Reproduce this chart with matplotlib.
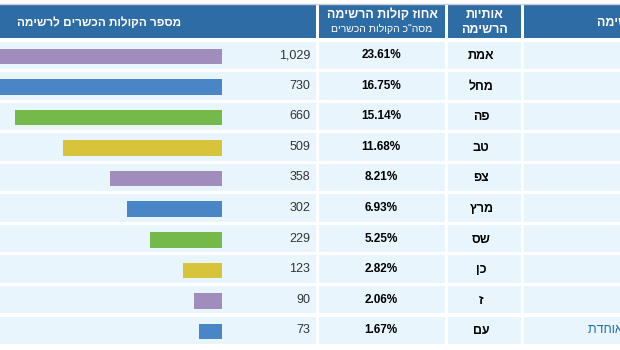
import matplotlib
matplotlib.use('Agg')
import matplotlib.pyplot as plt
from matplotlib.patches import Rectangle

plt.rcParams['font.family'] = ['Liberation Sans', 'DejaVu Sans']

# table data, top row first
letters = ['אמת', 'מחל', 'פה', 'טב', 'צפ', 'מרץ', 'שס', 'כן', 'ז', 'עם']
votes = [1029, 730, 660, 509, 358, 302, 229, 123, 90, 73]
percents = [23.61, 16.75, 15.14, 11.68, 8.21, 6.93, 5.25, 2.82, 2.06, 1.67]
names = ['', '', '', '', '', '', '', '', '', 'הרשימה המאוחדת']
bar_colors = ['#a08dbe', '#4a86c5', '#76b94b', '#d8c43a'] * 3

head_votes = 'מספר הקולות הכשרים לרשימה'
head_pct = ['אחוז קולות הרשימה', 'מסה"כ הקולות הכשרים']
head_letters = ['אותיות', 'הרשימה']
head_name = 'שם הרשימה'

HEAD = '#2e6ca6'
CELL = '#e8f5fd'


def heb(s):
    # matplotlib has no bidi support, so flip right-to-left text by hand
    return s[::-1]


W, H = 620, 350
fig = plt.figure(figsize=(W / 100, H / 100), dpi=100)
fig.patch.set_facecolor('white')
ax = fig.add_axes([0, 0, 1, 1])
ax.set_xlim(0, W)
ax.set_ylim(H, 0)
ax.axis('off')

# column edges in pixels
cols = [(-5, 315.5), (318.5, 445), (448, 521), (524, 630)]
row_top, row_h, pitch = 41.5, 27.5, 30.56
head_top, head_bot = 4.5, 38

ax.plot([0, W], [3.8, 3.8], color='#c8d0d8', lw=1)
for x0, x1 in cols:
    ax.add_patch(Rectangle((x0, head_top), x1 - x0, head_bot - head_top,
                           facecolor=HEAD, edgecolor='none'))
    for i in range(len(votes)):
        y0 = row_top + i * pitch
        ax.add_patch(Rectangle((x0, y0), x1 - x0, row_h, facecolor=CELL,
                               edgecolor='none'))

# header text
ax.text(99, 22.5, heb(head_votes), color='white', fontsize=8.5,
        fontweight='bold', ha='center', va='center')
ax.text(382, 15, heb(head_pct[0]), color='white', fontsize=9, fontweight='bold',
        ha='center', va='center')
ax.text(382, 28.5, heb(head_pct[1]), color='white', fontsize=7.5,
        ha='center', va='center')
ax.text(485, 15, heb(head_letters[0]), color='white', fontsize=9,
        fontweight='bold', ha='center', va='center')
ax.text(485, 30, heb(head_letters[1]), color='white', fontsize=9,
        fontweight='bold', ha='center', va='center')
ax.text(597, 22.5, heb(head_name), color='white', fontsize=9,
        fontweight='bold', ha='left', va='center')

# row text
for i in range(len(votes)):
    yc = row_top + i * pitch + row_h / 2
    ax.text(310, yc, f'{votes[i]:,}', color='#333333', fontsize=9,
            ha='right', va='center')
    ax.text(381, yc, f'{percents[i]:.2f}%', color='black', fontsize=8.5,
            fontweight='bold', ha='center', va='center')
    ax.text(481, yc + 1, heb(letters[i]), color='black', fontsize=9,
            fontweight='bold', ha='center', va='center')
    if names[i]:
        ax.text(588, yc, heb(names[i]), color='#1f6fa8', fontsize=9,
                ha='left', va='center')

# bars grow leftwards from x=221.7 px, 0.3127 px per vote
bar_right = 221.7
px_per_vote = 0.3127
bx = fig.add_axes([0, 0, bar_right / W, 1])
bx.set_xlim(bar_right / px_per_vote, 0)
bx.set_ylim(H, 0)
bx.axis('off')
bx.patch.set_alpha(0)
centers = [row_top + i * pitch + row_h / 2 + 1.2 for i in range(len(votes))]
bx.barh(centers, votes, height=15.5, color=bar_colors[:len(votes)])

fig.savefig('out.png', dpi=100)
